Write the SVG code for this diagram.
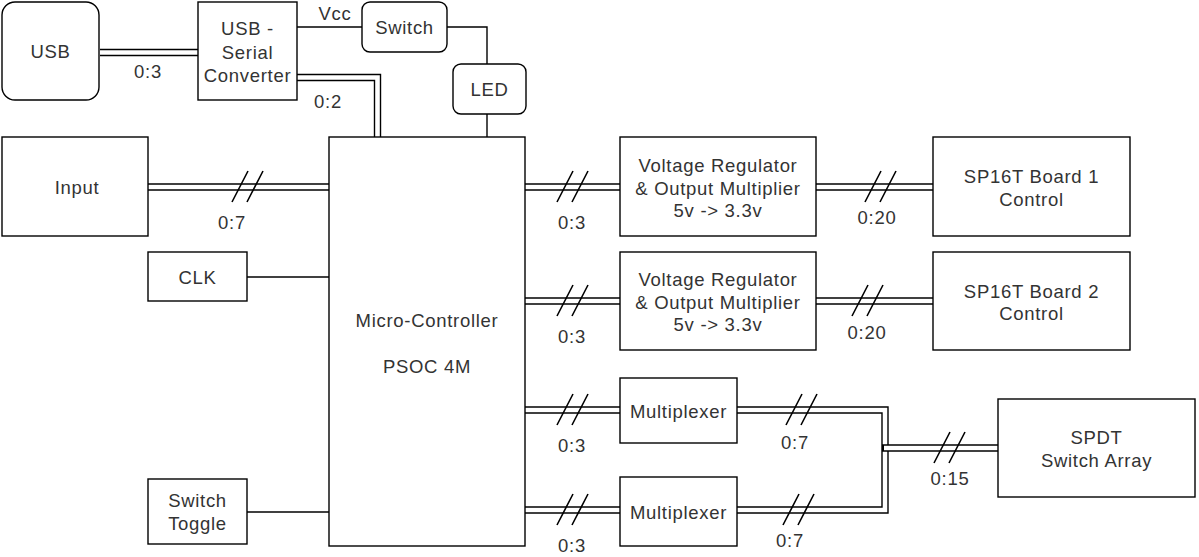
<svg xmlns="http://www.w3.org/2000/svg" xmlns:xlink="http://www.w3.org/1999/xlink" width="1199" height="557" viewBox="0 0 1199 557">
<style>
.box{fill:#fff;stroke:#000;stroke-width:1.4}
.t{font-family:"Liberation Sans",Arial,sans-serif;font-size:18.5px;letter-spacing:0.7px;fill:#333;text-anchor:middle;dominant-baseline:central}
.w{fill:none;stroke:#000;stroke-width:1.4}
.lo{fill:none;stroke:#000;stroke-width:7.4;stroke-linejoin:miter}
.li{fill:none;stroke:#fff;stroke-width:4.6;stroke-linejoin:miter}
.sl{stroke:#000;stroke-width:1.6;fill:none}
</style>
<defs>
<g id="slash"><path class="sl" d="M-16,15 L0,-16 M-1,15 L15,-16"/></g>
</defs>
<rect width="1199" height="557" fill="#fff"/>
<g id="connectors">
<path class="w" d="M297,27 H362"/>
<path class="w" d="M447,27 H487 V64"/>
<path class="w" d="M487,114 V137"/>
<path class="w" d="M247,277 H329"/>
<path class="w" d="M247,512 H329"/>
<path class="lo" d="M100,52.5 H198"/><path class="li" d="M99,52.5 H199"/>
<path class="lo" d="M297,77.5 H377.5 V137"/><path class="li" d="M296,77.5 H377.5 V138"/>
<path class="lo" d="M148,187 H329"/><path class="li" d="M147,187 H330"/>
<path class="lo" d="M525,187 H620"/><path class="li" d="M524,187 H621"/>
<path class="lo" d="M816,187 H933"/><path class="li" d="M815,187 H934"/>
<path class="lo" d="M525,301 H620"/><path class="li" d="M524,301 H621"/>
<path class="lo" d="M816,301 H933"/><path class="li" d="M815,301 H934"/>
<path class="lo" d="M525,410 H620"/><path class="li" d="M524,410 H621"/>
<path class="lo" d="M525,510 H620"/><path class="li" d="M524,510 H621"/>
<path class="lo" d="M737,410 H885 V510 H737"/><path class="li" d="M736,410 H885 V510 H736"/>
<path class="lo" d="M882,448 H998"/><path class="li" d="M884,448 H999"/>
<use xlink:href="#slash" x="248" y="187"/>
<use xlink:href="#slash" x="573" y="187"/>
<use xlink:href="#slash" x="881" y="187"/>
<use xlink:href="#slash" x="573" y="301"/>
<use xlink:href="#slash" x="868" y="301"/>
<use xlink:href="#slash" x="573" y="410"/>
<use xlink:href="#slash" x="573" y="510"/>
<use xlink:href="#slash" x="802" y="410"/>
<use xlink:href="#slash" x="799" y="510"/>
<use xlink:href="#slash" x="950" y="448"/>
<text class="t" x="148" y="71">0:3</text>
<text class="t" x="335" y="13">Vcc</text>
<text class="t" x="328" y="101">0:2</text>
<text class="t" x="232" y="222">0:7</text>
<text class="t" x="572" y="222">0:3</text>
<text class="t" x="877" y="217">0:20</text>
<text class="t" x="572" y="336">0:3</text>
<text class="t" x="867" y="332">0:20</text>
<text class="t" x="572" y="445">0:3</text>
<text class="t" x="795" y="442">0:7</text>
<text class="t" x="572" y="545">0:3</text>
<text class="t" x="790" y="540">0:7</text>
<text class="t" x="950" y="478">0:15</text>
</g>
<g id="usb"><rect class="box" x="2" y="2" width="97" height="98" rx="13"/><text class="t" x="50.5" y="51">USB</text></g>
<g id="converter"><rect class="box" x="198" y="2" width="99" height="98"/><text class="t" x="247.5" y="28">USB -</text><text class="t" x="247.5" y="52">Serial</text><text class="t" x="247.5" y="75">Converter</text></g>
<g id="switch"><rect class="box" x="362" y="2" width="85" height="50" rx="8"/><text class="t" x="404.5" y="27">Switch</text></g>
<g id="led"><rect class="box" x="453" y="64" width="73" height="50" rx="8"/><text class="t" x="489.5" y="89">LED</text></g>
<g id="input"><rect class="box" x="2" y="137" width="146" height="99"/><text class="t" x="77" y="187">Input</text></g>
<g id="clk"><rect class="box" x="148" y="252" width="99" height="49"/><text class="t" x="197.5" y="277">CLK</text></g>
<g id="switch-toggle"><rect class="box" x="148" y="479" width="99" height="65"/><text class="t" x="197.5" y="500">Switch</text><text class="t" x="197.5" y="523">Toggle</text></g>
<g id="mcu"><rect class="box" x="329" y="137" width="196" height="409"/><text class="t" x="427" y="320">Micro-Controller</text><text class="t" x="427" y="366">PSOC 4M</text></g>
<g id="vreg1"><rect class="box" x="620" y="137" width="196" height="99"/><text class="t" x="718" y="165">Voltage Regulator</text><text class="t" x="718" y="188">&amp; Output Multiplier</text><text class="t" x="718" y="210">5v -&gt; 3.3v</text></g>
<g id="vreg2"><rect class="box" x="620" y="252" width="196" height="98"/><text class="t" x="718" y="279">Voltage Regulator</text><text class="t" x="718" y="302">&amp; Output Multiplier</text><text class="t" x="718" y="324">5v -&gt; 3.3v</text></g>
<g id="sp16t1"><rect class="box" x="933" y="137" width="197" height="99"/><text class="t" x="1031.5" y="176">SP16T Board 1</text><text class="t" x="1031.5" y="199">Control</text></g>
<g id="sp16t2"><rect class="box" x="933" y="252" width="197" height="98"/><text class="t" x="1031.5" y="291">SP16T Board 2</text><text class="t" x="1031.5" y="313">Control</text></g>
<g id="mux1"><rect class="box" x="620" y="378" width="117" height="65"/><text class="t" x="678.5" y="411">Multiplexer</text></g>
<g id="mux2"><rect class="box" x="620" y="477" width="117" height="69"/><text class="t" x="678.5" y="512">Multiplexer</text></g>
<g id="spdt"><rect class="box" x="998" y="399" width="197" height="98"/><text class="t" x="1096.5" y="437">SPDT</text><text class="t" x="1096.5" y="460">Switch Array</text></g>
</svg>
